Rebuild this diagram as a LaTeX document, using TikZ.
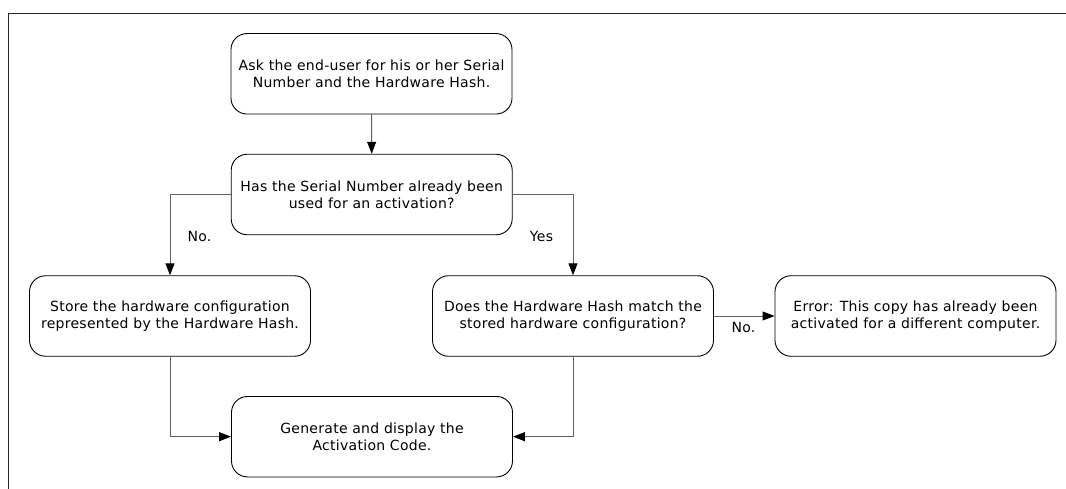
\documentclass[tikz,border=0pt]{standalone}
\usepackage{fontspec}
\setmainfont{DejaVu Sans}[LetterSpace=2]
\usetikzlibrary{arrows.meta}
\begin{document}
\begin{tikzpicture}[x=1pt,y=1pt,
  box/.style={draw=black, line width=0.9pt, rounded corners=16pt, minimum width=281pt, minimum height=80.5pt, align=center, inner sep=0pt, font=\fontsize{14}{16.7}\selectfont},
  conn/.style={draw=black!62, line width=1pt, -{Triangle[length=12pt,width=9pt,color=black]}},
  lbl/.style={font=\fontsize{14}{16}\selectfont, inner sep=0pt}]
\clip (0,0) rectangle (1066,488);
\fill[white] (0,0) rectangle (1066,488);
\draw[black!85, line width=1.3pt] (8.5,-5) -- (8.5,474.5) -- (1075,474.5);

\node[box] (n1) at (371.5,414.2) {Ask the end-user for his or her Serial\\Number and the Hardware Hash.};
\node[box] (n2) at (371.7,293.5) {Has the Serial Number already been\\used for an activation?};
\node[box] (st) at (170,172) {Store the hardware configuration\\represented by the Hardware Hash.};
\node[box] (hw) at (573,172) {Does the Hardware Hash match the\\stored hardware configuration?};
\node[box] (er) at (915.5,172) {Error: This copy has already been\\activated for a different computer.};
\node[box] (gn) at (372,51.3) {Generate and display the\\Activation Code.};

\draw[conn] (n1.south) -- (n2.north);
\draw[conn] (n2.west) -| (st.north);
\draw[conn] (n2.east) -| (hw.north);
\draw[conn] (hw.east) -- (er.west);
\draw[conn] (st.south) |- (gn.west);
\draw[conn] (hw.south) |- (gn.east);

\node[lbl] (lno1) at (199.5,251.5) {No.};
\node[lbl] (lyes) at (541.5,252) {Yes};
\node[lbl] (lno2) at (743.5,161) {No.};
\end{tikzpicture}
\end{document}
